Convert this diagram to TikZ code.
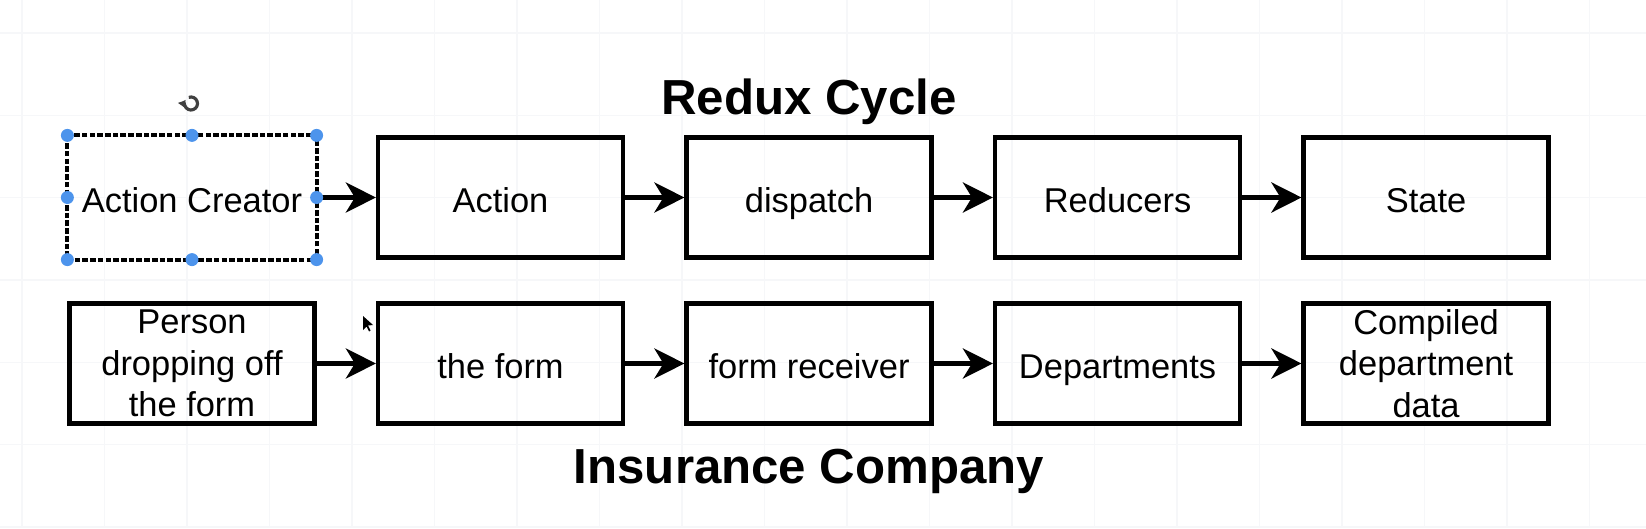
\documentclass[tikz,border=0pt]{standalone}
\usepackage{fontspec}
\setmainfont{Liberation Sans}
\usetikzlibrary{arrows.meta,positioning}
\definecolor{GridClr}{RGB}{246,247,249}
\definecolor{HandleClr}{RGB}{77,148,236}

\tikzset{
  stage/.style={draw=black,line width=1.2pt,minimum width=2.45cm,minimum height=1.2cm,
    align=center,inner sep=1pt,font=\fontsize{9.8}{11.8}\selectfont},
  oneline/.style={text height=10pt,text depth=1.4pt},
  flow/.style={-{Stealth[length=3mm,width=3mm,inset=0.9mm]},line width=1.4pt},
  heading/.style={font=\fontsize{14}{17}\selectfont\bfseries},
  handle/.style={fill=HandleClr,draw=none,circle,inner sep=0pt,minimum size=1.3mm}
}

\begin{document}
\begin{tikzpicture}
\useasboundingbox (0,0) rectangle (16.46,5.28);

% faint canvas grid
\foreach \x in {0,...,19} \draw[GridClr,line width=.4pt] (0.22+0.825*\x,0) -- (0.22+0.825*\x,5.28);
\foreach \y in {0,...,6} \draw[GridClr,line width=.4pt] (0,0.01+0.8233*\y) -- (16.46,0.01+0.8233*\y);

\node[heading] (title) at (8.09,4.26) {Redux Cycle};
\node[heading] (company) at (8.09,0.57) {Insurance Company};

% redux row
\node[stage,oneline,draw=none] (ac) at (1.92,3.305) {Action Creator};
\node[stage,oneline,right=0.593cm of ac] (act) {Action};
\node[stage,oneline,right=0.593cm of act] (disp) {dispatch};
\node[stage,oneline,right=0.593cm of disp] (red) {Reducers};
\node[stage,oneline,right=0.593cm of red] (st) {State};

% insurance row
\node[stage] (pers) at (1.92,1.645) {Person\\dropping off\\the form};
\node[stage,oneline,right=0.593cm of pers] (form) {the form};
\node[stage,oneline,right=0.593cm of form] (recv) {form receiver};
\node[stage,oneline,right=0.593cm of recv] (dept) {Departments};
\node[stage,right=0.593cm of dept] (data) {Compiled\\department\\data};

\draw[flow] (ac) -- (act);
\draw[flow] (act) -- (disp);
\draw[flow] (disp) -- (red);
\draw[flow] (red) -- (st);
\draw[flow] (pers) -- (form);
\draw[flow] (form) -- (recv);
\draw[flow] (recv) -- (dept);
\draw[flow] (dept) -- (data);

% selection of the first box
\draw[line width=1.1pt,dash pattern=on 1.6pt off 0.6pt] (ac.north west) rectangle (ac.south east);
\foreach \a in {north west,north,north east,east,south east,south,south west,west}
  \node[handle] at (ac.\a) {};
\draw[line width=.9pt,black!75,-{Latex[length=0.7mm,width=1mm]}] (1.91,4.245) ++(110:0.065) arc (110:-215:0.065);

% mouse pointer
\fill[black] (3.63,2.12) -- (3.63,1.98) -- (3.665,2.015) -- (3.69,1.965) -- (3.705,1.975) -- (3.68,2.025) -- (3.73,2.03) -- cycle;
\end{tikzpicture}
\end{document}
